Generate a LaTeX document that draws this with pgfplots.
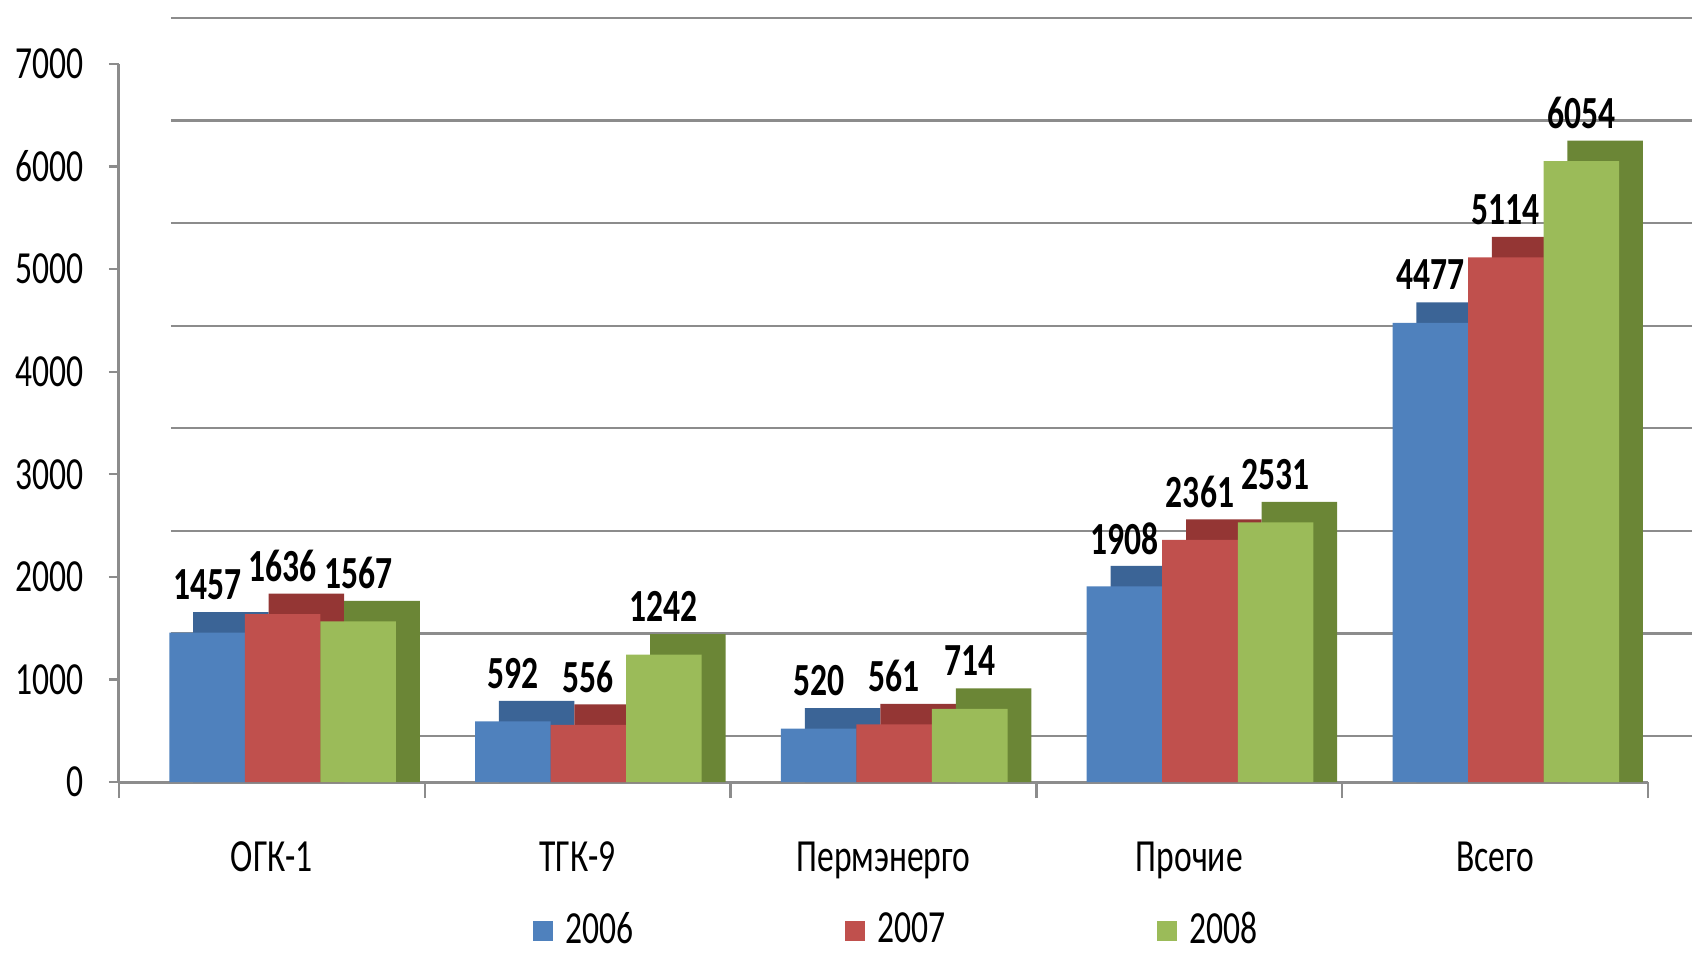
\documentclass[border=0pt]{standalone}
\usepackage{pgfplots}
\usepackage{pgfplotstable}
\pgfplotsset{compat=1.18}
\usepackage{fontspec}
\setmainfont{Carlito}[FakeStretch=0.73]
\definecolor{cA}{HTML}{4F81BD}
\definecolor{cB}{HTML}{C0504D}
\definecolor{cC}{HTML}{9BBB59}
\definecolor{dA}{HTML}{3B6496}
\definecolor{dB}{HTML}{943634}
\definecolor{dC}{HTML}{6B8636}
\definecolor{gr}{HTML}{8C8C8C}
\pgfplotstableread{
x a b c
0 1457 1636 1567
1 592 556 1242
2 520 561 714
3 1908 2361 2531
4 4477 5114 6054
}\data
\begin{document}
\fontsize{23pt}{27pt}\selectfont
\begin{tikzpicture}
\useasboundingbox (-59.5pt,-86pt) rectangle (786.5pt,391pt);
\begin{axis}[
  at={(0,0)}, anchor=south west,
  scale only axis, width=764.5pt, height=359pt,
  xmin=-0.5, xmax=4.5, ymin=0, ymax=7000,
  ytick={0,1000,...,7000},
  xtick={0,1,2,3,4},
  xticklabels={ОГК-1,ТГК-9,Пермэнерго,Прочие,Всего},
  minor xtick={-0.5,0.5,...,4.5},
  x tick style={draw=none},
  minor x tick style={draw=gr, line width=1.2pt},
  minor tick length=8pt,
  y tick style={draw=gr, line width=1.2pt},
  major tick length=5pt,
  tick align=outside,
  xticklabel style={yshift=-17pt},
  yticklabel style={xshift=-5pt},
  axis x line*=bottom, axis y line*=left,
  axis line style={draw=gr, line width=1.5pt},
  ymajorgrids, grid style={draw=gr, line width=1.2pt, xshift=26pt, yshift=23pt},
  /pgf/number format/.cd, 1000 sep={}, assume math mode=true,
  /pgfplots/.cd,
  ybar, bar width=0.247,
  legend style={draw=none, fill=none, at={(0.509,-0.208)}, anchor=center, legend columns=3,
     /tikz/every odd column/.append style={column sep=4pt},
     /tikz/every even column/.append style={column sep=104pt}},
  legend image code/.code={\fill[#1] (0pt,-5pt) rectangle (10pt,5pt);},
  nodes near coords={\pgfmathprintnumber[1000 sep={}]{\pgfplotspointmeta}},
  every node near coord/.append style={font=\bfseries, anchor=center, yshift=24pt},
]
% depth (top / side faces)
\addplot[forget plot, fill=dA, draw=none, bar shift=-0.134, nodes near coords={}] table[x=x, y expr=\thisrow{a}+200] {\data};
\addplot[forget plot, fill=dB, draw=none, bar shift=0.113, nodes near coords={}] table[x=x, y expr=\thisrow{b}+200] {\data};
\addplot[forget plot, fill=dC, draw=none, bar shift=0.360, nodes near coords={}] table[x=x, y expr=\thisrow{c}+200] {\data};
% front faces
\addplot[fill=cA, draw=none, bar shift=-0.212] table[x=x, y=a] {\data};
\addplot[fill=cB, draw=none, bar shift=0.035] table[x=x, y=b] {\data};
\addplot[fill=cC, draw=none, bar shift=0.282] table[x=x, y=c] {\data};
\legend{2006,2007,2008}
\end{axis}
\end{tikzpicture}
\end{document}
